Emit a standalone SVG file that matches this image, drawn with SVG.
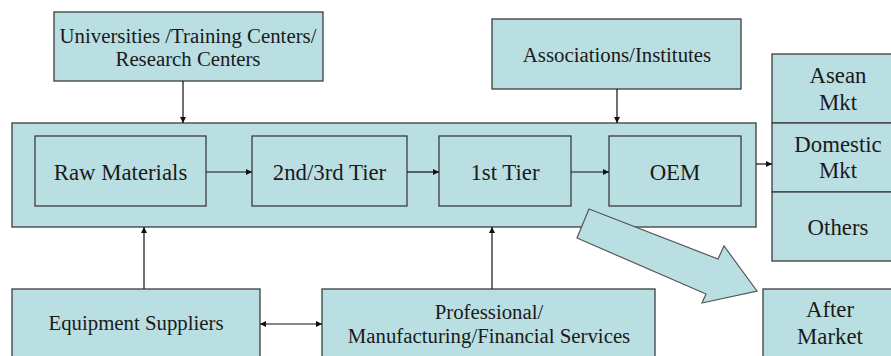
<svg xmlns="http://www.w3.org/2000/svg" width="891" height="356" viewBox="0 0 891 356">
<defs>
<style>
.box{fill:#BADFE3;stroke:#3c3c3c;stroke-width:1.3}
.t{font-family:'Liberation Serif','Times New Roman','DejaVu Serif',serif;fill:#1a1a1a;text-anchor:middle}
.s21{font-size:20.8px}
.s23{font-size:22.8px}
.c{stroke:#111;stroke-width:1.2;fill:none}
</style>
<marker id="ah" viewBox="0 0 10 10" refX="10" refY="5" markerWidth="6" markerHeight="6" markerUnits="userSpaceOnUse" orient="auto">
<path d="M0,0 L10,5 L0,10 Z" fill="#111"/>
</marker>
<marker id="as" viewBox="0 0 10 10" refX="0" refY="5" markerWidth="6" markerHeight="6" markerUnits="userSpaceOnUse" orient="auto">
<path d="M10,0 L0,5 L10,10 Z" fill="#111"/>
</marker>
</defs>
<rect width="891" height="356" fill="#ffffff"/>

<g id="universities">
<rect class="box" x="54" y="12" width="269" height="69"/>
<text class="t s21" font-family="Liberation Serif, serif" x="188" y="43">Universities /Training Centers/</text>
<text class="t s21" font-family="Liberation Serif, serif" x="188" y="66">Research Centers</text>
</g>

<g id="associations">
<rect class="box" x="492" y="19" width="249" height="70"/>
<text class="t s21" font-family="Liberation Serif, serif" x="617" y="62">Associations/Institutes</text>
</g>

<g id="value-chain">
<rect class="box" x="12" y="123" width="744" height="104"/>
</g>

<g id="raw-materials">
<rect class="box" x="35" y="136" width="171" height="70"/>
<text class="t s23" font-family="Liberation Serif, serif" x="120.5" y="180">Raw Materials</text>
</g>

<g id="tier23">
<rect class="box" x="252" y="136" width="155" height="70"/>
<text class="t s23" font-family="Liberation Serif, serif" x="329.5" y="180">2nd/3rd Tier</text>
</g>

<g id="tier1">
<rect class="box" x="439" y="136" width="132" height="70"/>
<text class="t s23" font-family="Liberation Serif, serif" x="505" y="180">1st Tier</text>
</g>

<g id="oem">
<rect class="box" x="609" y="136" width="132" height="70"/>
<text class="t s23" font-family="Liberation Serif, serif" x="675" y="180">OEM</text>
</g>

<g id="asean-mkt">
<rect class="box" x="772" y="54" width="140" height="69"/>
<text class="t s23" font-family="Liberation Serif, serif" x="838" y="83">Asean</text>
<text class="t s23" font-family="Liberation Serif, serif" x="838" y="110">Mkt</text>
</g>

<g id="domestic-mkt">
<rect class="box" x="772" y="123" width="140" height="69"/>
<text class="t s23" font-family="Liberation Serif, serif" x="838" y="152">Domestic</text>
<text class="t s23" font-family="Liberation Serif, serif" x="838" y="178">Mkt</text>
</g>

<g id="others">
<rect class="box" x="772" y="192" width="140" height="69"/>
<text class="t s23" font-family="Liberation Serif, serif" x="838" y="235">Others</text>
</g>

<g id="after-market">
<rect class="box" x="763" y="289" width="140" height="80"/>
<text class="t s23" font-family="Liberation Serif, serif" x="830" y="317">After</text>
<text class="t s23" font-family="Liberation Serif, serif" x="830" y="344">Market</text>
</g>

<g id="equipment-suppliers">
<rect class="box" x="12" y="289" width="248" height="80"/>
<text class="t s21" font-family="Liberation Serif, serif" x="136" y="330">Equipment Suppliers</text>
</g>

<g id="professional-services">
<rect class="box" x="322" y="289" width="333" height="80"/>
<text class="t s21" font-family="Liberation Serif, serif" x="489" y="319">Professional/</text>
<text class="t s21" font-family="Liberation Serif, serif" x="489" y="343">Manufacturing/Financial Services</text>
</g>

<g id="connectors">
<line class="c" x1="183" y1="81" x2="183" y2="123" marker-end="url(#ah)"/>
<line class="c" x1="617" y1="89" x2="617" y2="123" marker-end="url(#ah)"/>
<line class="c" x1="206" y1="172" x2="252" y2="172" marker-end="url(#ah)"/>
<line class="c" x1="407" y1="172" x2="439" y2="172" marker-end="url(#ah)"/>
<line class="c" x1="571" y1="172" x2="609" y2="172" marker-end="url(#ah)"/>
<line class="c" x1="756" y1="164" x2="772" y2="164" marker-end="url(#ah)"/>
<line class="c" x1="144" y1="289" x2="144" y2="227" marker-end="url(#ah)"/>
<line class="c" x1="492" y1="289" x2="492" y2="227" marker-end="url(#ah)"/>
<line class="c" x1="260" y1="324" x2="322" y2="324" marker-start="url(#as)" marker-end="url(#ah)"/>
<polygon id="block-arrow" points="589,209 718,259 724,246 757,291 702,303 706,294 577,238" fill="#BADFE3" stroke="#555" stroke-width="1.2" stroke-linejoin="miter"/>
</g>
</svg>
